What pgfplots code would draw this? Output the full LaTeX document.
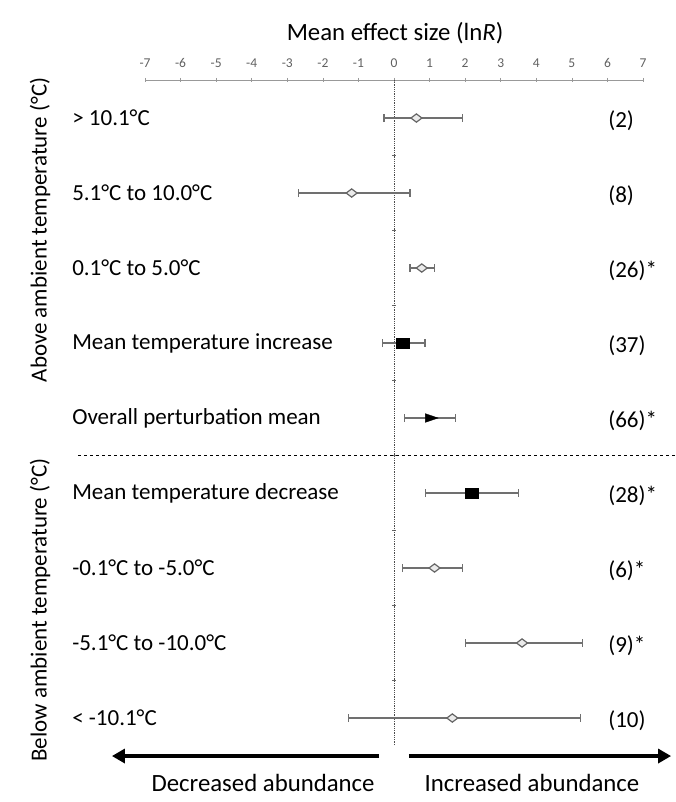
\documentclass[border=0pt]{standalone}
\usepackage{fontspec}
\setmainfont{Carlito}
\usepackage{pgfplots}
\usepackage{pgfplotstable}
\pgfplotsset{compat=1.18}
\usetikzlibrary{arrows.meta}
\definecolor{ebar}{HTML}{707070}
\definecolor{axgray}{HTML}{999999}
\definecolor{tickgray}{HTML}{606060}
\newcommand\lbl{\fontsize{23}{26}\selectfont}
\newcommand\biglbl{\fontsize{24.8}{28}\selectfont}
% y = row (9 = top row), x = mean lnR, em/ep = distance to lower/upper CI
\pgfplotstableread{
y x em ep
9 0.63 0.91 1.29
8 -1.19 1.50 1.64
7 0.78 0.33 0.37
3 1.14 0.90 0.79
2 3.60 1.60 1.70
1 1.64 2.91 3.61
}\diamonds
\pgfplotstableread{
y x em ep
6 0.25 0.58 0.62
4 2.18 1.30 1.32
}\squares
\pgfplotstableread{
y x em ep
5 1.00 0.70 0.72
}\overall
\begin{document}
\begin{tikzpicture}[x=1pt,y=1pt]
\useasboundingbox (0,0) rectangle (675,-802);
\begin{axis}[
  at={(145pt,-80pt)}, anchor=north west,
  scale only axis, width=498pt, height=665pt,
  xmin=-7, xmax=7, ymin=0.64, ymax=9.507,
  axis x line=top, axis y line=center,
  x axis line style={-, axgray, line width=0.8pt},
  y axis line style={-, densely dotted, black!70, line width=0.8pt},
  xtick={-7,...,7},
  xticklabel style={font=\fontsize{13.5}{15}\selectfont, text=tickgray, yshift=7pt},
  /pgf/number format/assume math mode=true,
  ytick={1.5,2.5,3.5,4.5,5.5,6.5,7.5,8.5},
  yticklabels={},
  major tick length=4pt,
  xtick style={axgray, line width=0.6pt},
  ytick style={black!60, line width=0.6pt},
  clip=false,
]
% horizontal dashed separator
\addplot[black, dashed, line width=0.8pt] coordinates {(-8.88,4.5) (7.9,4.5)};
% error bars + markers
\addplot[only marks, mark=diamond*, mark size=5.5pt,
  mark options={rotate=90, fill=black!8, draw=black!60, line width=1.2pt},
  error bars/.cd, x dir=both, x explicit,
  error bar style={ebar, line width=1.1pt},
  error mark options={ebar, line width=1.1pt, mark size=4pt, rotate=90}]
  table[x=x, y=y, x error plus=ep, x error minus=em] {\diamonds};
\addplot[only marks, mark=square*, mark size=6.5pt,
  mark options={yscale=0.8, fill=black, draw=black},
  error bars/.cd, x dir=both, x explicit,
  error bar style={ebar, line width=1.1pt},
  error mark options={ebar, line width=1.1pt, mark size=4pt, rotate=90}]
  table[x=x, y=y, x error plus=ep, x error minus=em] {\squares};
\addplot[only marks, mark=triangle*, mark size=5pt,
  mark options={xscale=1.7, rotate=-90, fill=black, draw=black},
  error bars/.cd, x dir=both, x explicit,
  error bar style={ebar, line width=1.1pt},
  error mark options={ebar, line width=1.1pt, mark size=4pt, rotate=90}]
  table[x=x, y=y, x error plus=ep, x error minus=em] {\overall};
% row labels
\node[anchor=west, font=\lbl, inner sep=0pt] at (axis cs:-9.05,9) {> 10.1°C};
\node[anchor=west, font=\lbl, inner sep=0pt] at (axis cs:-9.05,8) {5.1°C to 10.0°C};
\node[anchor=west, font=\lbl, inner sep=0pt] at (axis cs:-9.05,7) {0.1°C to 5.0°C};
\node[anchor=west, font=\lbl, inner sep=0pt] at (axis cs:-9.05,6) {Mean temperature increase};
\node[anchor=west, font=\lbl, inner sep=0pt] at (axis cs:-9.05,5) {Overall perturbation mean};
\node[anchor=west, font=\lbl, inner sep=0pt] at (axis cs:-9.05,4) {Mean temperature decrease};
\node[anchor=west, font=\lbl, inner sep=0pt] at (axis cs:-9.05,3) {-0.1°C to -5.0°C};
\node[anchor=west, font=\lbl, inner sep=0pt] at (axis cs:-9.05,2) {-5.1°C to -10.0°C};
\node[anchor=west, font=\lbl, inner sep=0pt] at (axis cs:-9.05,1) {< -10.1°C};
% counts
\node[anchor=west, font=\lbl, inner sep=0pt] at (axis cs:6.02,8.96) {(2)};
\node[anchor=west, font=\lbl, inner sep=0pt] at (axis cs:6.02,7.96) {(8)};
\node[anchor=west, font=\lbl, inner sep=0pt] at (axis cs:6.02,6.96) {(26)*};
\node[anchor=west, font=\lbl, inner sep=0pt] at (axis cs:6.02,5.96) {(37)};
\node[anchor=west, font=\lbl, inner sep=0pt] at (axis cs:6.02,4.96) {(66)*};
\node[anchor=west, font=\lbl, inner sep=0pt] at (axis cs:6.02,3.96) {(28)*};
\node[anchor=west, font=\lbl, inner sep=0pt] at (axis cs:6.02,2.96) {(6)*};
\node[anchor=west, font=\lbl, inner sep=0pt] at (axis cs:6.02,1.96) {(9)*};
\node[anchor=west, font=\lbl, inner sep=0pt] at (axis cs:6.02,0.96) {(10)};
% group labels
\node[rotate=90, font=\lbl] at (axis cs:-9.95,7.507) {Above ambient temperature (°C)};
\node[rotate=90, font=\lbl] at (axis cs:-9.95,2.44) {Below ambient temperature (°C)};
% title
\node[font=\biglbl] at (axis cs:0.03,10.133) {Mean effect size (ln\textit{R})};
% arrows
\draw[line width=3.5pt, -{Triangle[length=13pt,width=14pt]}] (axis cs:-0.42,0.493) -- (axis cs:-7.93,0.493);
\draw[line width=3.5pt, -{Triangle[length=13pt,width=14pt]}] (axis cs:0.42,0.493) -- (axis cs:7.79,0.493);
\node[font=\biglbl] at (axis cs:-3.68,0.133) {Decreased abundance};
\node[font=\biglbl] at (axis cs:3.88,0.133) {Increased abundance};
\end{axis}
\end{tikzpicture}
\end{document}
